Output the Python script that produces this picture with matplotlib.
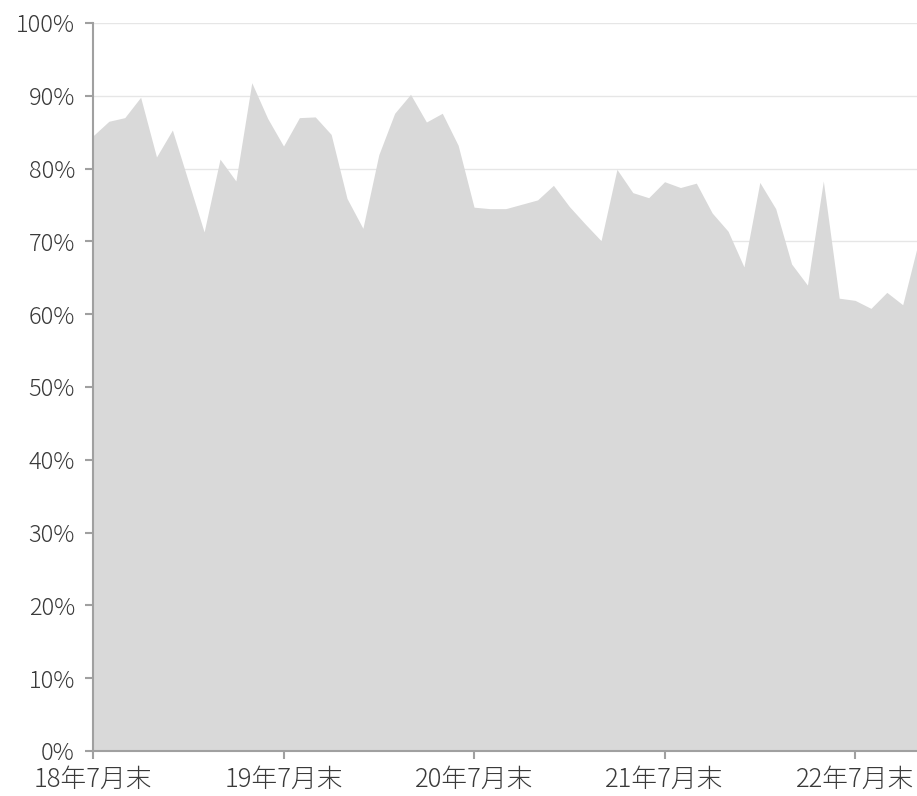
import matplotlib
matplotlib.use('Agg')
import matplotlib.pyplot as plt
import numpy as np

plt.rcParams['font.family'] = ['Noto Sans CJK JP', 'DejaVu Sans']
plt.rcParams['font.weight'] = 'light'

# monthly ratio (%), 18年7月末 .. 22年11月末
values = [84.5, 86.5, 87.0, 89.8, 81.6, 85.3, 78.3, 71.3, 81.3, 78.3,
          91.8, 86.9, 83.1, 87.0, 87.1, 84.7, 75.9, 71.8, 81.9, 87.6,
          90.2, 86.4, 87.6, 83.2, 74.7, 74.5, 74.5, 75.1, 75.7, 77.7,
          74.8, 72.4, 70.1, 79.9, 76.7, 76.0, 78.2, 77.4, 78.0, 73.9,
          71.4, 66.5, 78.1, 74.5, 66.9, 64.0, 78.3, 62.2, 61.9, 60.8,
          63.0, 61.3, 70.0]
tick_pos = [0, 12, 24, 36, 48]
tick_labels = ['18年7月末', '19年7月末', '20年7月末', '21年7月末', '22年7月末']
y_ticks = list(range(0, 101, 10))

x = np.arange(len(values))

fig = plt.figure(figsize=(9.17, 7.96), dpi=100)
ax = fig.add_axes([93 / 917, 45 / 796, 1 - 93 / 917, 728 / 796])

ax.fill_between(x, 0, values, color='#d9d9d9', linewidth=0, zorder=2)

ax.set_xlim(0, 51.9)
ax.set_ylim(0, 100)
ax.set_yticks(y_ticks)
ax.set_yticklabels([f'{v}%' for v in y_ticks])
ax.set_xticks(tick_pos)
ax.set_xticklabels(tick_labels)

ax.grid(axis='y', color='#e6e6e6', linewidth=1, zorder=1)
for s in ['top', 'right']:
    ax.spines[s].set_visible(False)
for s in ['left', 'bottom']:
    ax.spines[s].set_color('#a0a0a0')
    ax.spines[s].set_linewidth(1.5)
    ax.spines[s].set_zorder(3)

ax.tick_params(axis='both', colors='#a0a0a0', length=6, width=1.5,
               labelcolor='#3a3a3a')
ax.tick_params(axis='y', pad=7, labelsize=17)
ax.tick_params(axis='x', pad=5, labelsize=18.5)

plt.savefig('out.png', dpi=100)
